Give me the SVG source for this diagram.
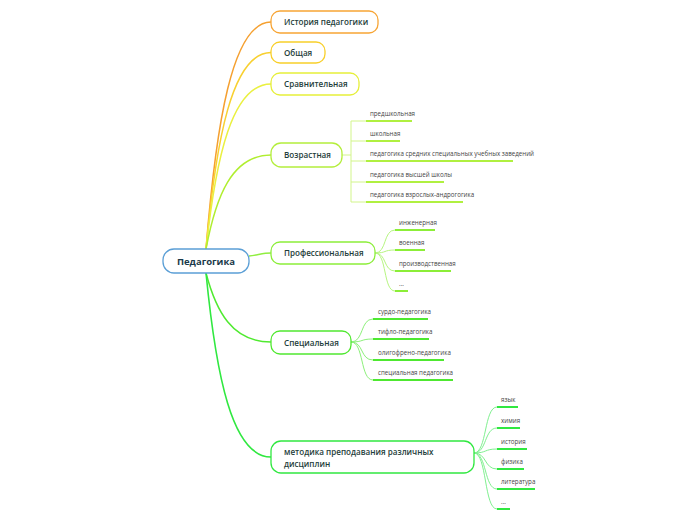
<svg xmlns="http://www.w3.org/2000/svg" width="696" height="520" viewBox="0 0 696 520">
<style>
.node rect{fill:#fff;stroke-width:1.3}
.nt{font-family:"Open Sans","Liberation Sans",sans-serif;font-weight:600;font-size:8.1px;fill:#1e3d3a}
.rt{font-family:"Open Sans","Liberation Sans",sans-serif;font-weight:700;font-size:9.5px;fill:#1b3a4a}
.st{font-family:"Open Sans","Liberation Sans",sans-serif;font-size:6.2px;fill:#444}
.c{fill:none}
.ul{fill:none;stroke-width:2}
</style>
<rect width="696" height="520" fill="#fff"/>
<g id="connectors">
  <path class="c" d="M206,249 C216,125 232,22 271,22" stroke="#f5a030" stroke-width="1.5"/>
  <path class="c" d="M206,249 C216,140 232,52.5 271,52.5" stroke="#f8d030" stroke-width="1.5"/>
  <path class="c" d="M206,249 C216,157 232,84 271,84" stroke="#eaf040" stroke-width="1.5"/>
  <path class="c" d="M206,249 C216,196 232,155 271,155" stroke="#b0ee30" stroke-width="1.5"/>
  <path class="c" d="M249,256 C258,255 263,253 271,253" stroke="#90ee40" stroke-width="1.5"/>
  <path class="c" d="M206,273 C216,311 232,342 271,342" stroke="#50ea30" stroke-width="1.5"/>
  <path class="c" d="M206,273 C216,375 232,457 271,457" stroke="#30e840" stroke-width="1.6"/>
  <g stroke="#d2f58a" stroke-width="1" fill="none">
    <path d="M342,155 H351 M351,121 V202 M351,121 H366 M351,141 H366 M351,161 H366 M351,182 H366 M351,202 H366"/>
  </g>
  <g stroke="#b0f040" class="ul">
    <path d="M366,121 H412 M366,141 H400 M366,161 H513 M366,182 H444 M366,202 H463"/>
  </g>
  <g stroke="#b6f580" stroke-width="1" fill="none">
    <path d="M375,253 C387,253 383,230 395,230"/>
    <path d="M375,253 C387,253 383,250 395,250"/>
    <path d="M375,253 C387,253 383,271 395,271"/>
    <path d="M375,253 C387,253 383,291 395,291"/>
  </g>
  <g stroke="#8cee38" class="ul">
    <path d="M395,230 H435 M395,250 H425 M395,271 H451 M395,291 H408"/>
  </g>
  <g stroke="#8cf07a" stroke-width="1" fill="none">
    <path d="M351,342 C364,342 360,319 373,319"/>
    <path d="M351,342 C364,342 360,339 373,339"/>
    <path d="M351,342 C364,342 360,360 373,360"/>
    <path d="M351,342 C364,342 360,380 373,380"/>
  </g>
  <g stroke="#4ee830" class="ul">
    <path d="M373,319 H428 M373,339 H429 M373,360 H444 M373,380 H453"/>
  </g>
  <g stroke="#80f090" stroke-width="1" fill="none">
    <path d="M474,453 C487,453 484,407 497,407"/>
    <path d="M474,453 C487,453 484,428 497,428"/>
    <path d="M474,453 C487,453 484,449 497,449"/>
    <path d="M474,453 C487,453 484,469 497,469"/>
    <path d="M474,453 C487,453 484,489 497,489"/>
    <path d="M474,453 C487,453 484,509 497,509"/>
  </g>
  <g stroke="#30e840" class="ul">
    <path d="M497,407 H518 M497,428 H520 M497,449 H527 M497,469 H524 M497,489 H535 M497,509 H510"/>
  </g>
</g>
<g id="root" class="node">
  <rect x="163" y="249" width="86" height="24" rx="11" stroke="#5b9fd6" stroke-width="1.5"/>
  <text class="rt" x="206" y="264.5" text-anchor="middle">Педагогика</text>
</g>
<g id="n-history" class="node">
  <rect x="271" y="11" width="107" height="22" rx="9" stroke="#f7a535"/>
  <text class="nt" x="284" y="25">История педагогики</text>
</g>
<g id="n-obsh" class="node">
  <rect x="271" y="42" width="54" height="21" rx="9" stroke="#f8cf2a"/>
  <text class="nt" x="284" y="55.5">Общая</text>
</g>
<g id="n-sravn" class="node">
  <rect x="271" y="73" width="88" height="22" rx="9" stroke="#e6ef3a"/>
  <text class="nt" x="284" y="87">Сравнительная</text>
</g>
<g id="n-vozr" class="node">
  <rect x="271" y="143" width="71" height="24" rx="10" stroke="#b4ee3c"/>
  <text class="nt" x="284" y="158">Возрастная</text>
</g>
<g id="n-prof" class="node">
  <rect x="271" y="242" width="104" height="22" rx="9" stroke="#8cee3a"/>
  <text class="nt" x="284" y="256">Профессиональная</text>
</g>
<g id="n-spec" class="node">
  <rect x="271" y="331" width="80" height="23" rx="9" stroke="#50e830"/>
  <text class="nt" x="284" y="345.5">Специальная</text>
</g>
<g id="n-metod" class="node">
  <rect x="271" y="441" width="203" height="32" rx="10" stroke="#30e840"/>
  <text class="nt" x="284" y="455">методика преподавания различных</text>
  <text class="nt" x="284" y="466.5">дисциплин</text>
</g>
<g id="subitems" class="st">
  <text x="370" y="115.5">предшкольная</text>
  <text x="370" y="135.5">школьная</text>
  <text x="370" y="155.5">педагогика средних специальных учебных заведений</text>
  <text x="370" y="176.5">педагогика высшей школы</text>
  <text x="370" y="196.5">педагогика взрослых-андрогогика</text>
  <text x="399" y="224.5">инженерная</text>
  <text x="399" y="244.5">военная</text>
  <text x="399" y="265.5">производственная</text>
  <text x="399" y="285.5">...</text>
  <text x="378" y="313.5">сурдо-педагогика</text>
  <text x="378" y="333.5">тифло-педагогика</text>
  <text x="378" y="354.5">олигофрено-педагогика</text>
  <text x="378" y="374.5">специальная педагогика</text>
  <text x="501" y="401.5">язык</text>
  <text x="501" y="422.5">химия</text>
  <text x="501" y="443.5">история</text>
  <text x="501" y="463.5">физика</text>
  <text x="501" y="483.5">литература</text>
  <text x="501" y="503.5">...</text>
</g>
</svg>
